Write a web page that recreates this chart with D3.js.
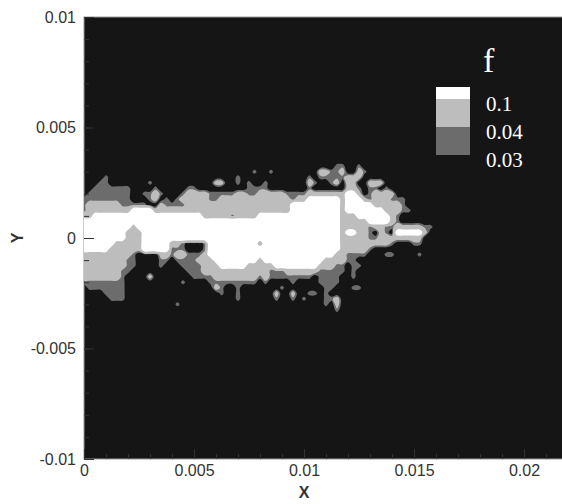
<!DOCTYPE html>
<html>
<head>
<meta charset="utf-8">
<script src="https://cdn.jsdelivr.net/npm/d3@7"></script>
<style>
  body { margin: 0; background: #fff; }
  svg { display: block; }
</style>
</head>
<body>
<div id="chart"></div>
<script>
// axis extents and ticks
const xDomain = [0, 0.022];
const yDomain = [-0.01, 0.01];
const xMajorTicks = [0, 0.005, 0.01, 0.015, 0.02];
const yMajorTicks = [-0.01, -0.005, 0, 0.005, 0.01];
const xMinorTicks = d3.range(0, 0.0221, 0.001);
const yMinorTicks = d3.range(-0.01, 0.01001, 0.001);

// contour levels of f and legend
const levels = [0.03, 0.04, 0.1];
const legendLabels = ["0.1", "0.04", "0.03"];

// sampled f field read off the picture, 0.00025 spacing
// rows go from y=0.0035 (top) to y=-0.0035, columns from x=0 to x=0.016
// ("|" only splits the rows into readable chunks)
const gridX = [0, 0.016];
const gridY = [0.0035, -0.0035];
// "." below 0.03, "1" 0.03-0.04, "2" 0.04-0.1, "3" above 0.1
const fieldCodes = { ".": 0.02, "1": 0.036, "2": 0.052, "3": 0.16 };
const fieldRows = [
  "................|................|................|.................",
  "................|................|..............11|..1..............",
  "................|...............1|..1........22112|..21.............",
  "....1...........|............1...|.........1.11111|222..............",
  "...11.......1...|........22..1.1.|.1.......21..12.|22..222..........",
  "..1111111....1..|...11.........11|11.......1......|221.11.1.........",
  ".11111111..1121.|..12222111112211|2222211112222222|332.12222........",
  "111111111...12.1|.122222112222222|2222221223333332|33321222111......",
  "122222211111..21|1112222222222222|2222223333333332|33333222221......",
  "1222222223333222|2222222222222222|2222223333333332|333333322211.....",
  "2233333333333333|3333332222212222|3333333333333332|2233333321.......",
  "3333333333333333|3333333333333333|3333333333333332|2222333321.......",
  "3333333332333333|3333333333333333|3333333333333332|2222122112222211.",
  "3333333322233333|3333333333333333|3333333333333332|33221.21.333332..",
  "3333333322233333|3333333333333333|3333333333333332|22221122222222...",
  "3333332222233333|221...1333333333|2333333333333332|222222221...11...",
  "3333322222233333|111...1333333333|3333333333333332|22221............",
  "2222222221....22|1221112333333333|3333333333333322|1111...11....1...",
  "2222222211....11|.111122233333333|2333333333332222|11...............",
  "2222222211....1.|..11112223333322|2223333333322211|.11..............",
  "222222211.......|...1112222222222|2211122222211111|.1...............",
  "22222221....2...|....111122222222|1211111111.1111.|.1...............",
  "11111111........|..1....111111111|.1....1....1111.|.................",
  ".1111111........|........21..1...|....1.......11..|.11..............",
  "....1111........|.........1..1...|...2..2..11.1...|.................",
  ".....111........|............1...|...1..1.1...112.|.................",
  "................|.1..............|............1.2.|.................",
  "................|................|..............1.|.................",
  "................|................|................|................."
];

const fillColors = ["#6c6c6c", "#bdbdbd", "#ffffff"];
const backgroundColor = "#151515";

const svgWidth = 562,
  svgHeight = 504;
const plot = { left: 84, top: 17, width: 484, height: 442 };

const svg = d3
  .select("#chart")
  .append("svg")
  .attr("width", svgWidth)
  .attr("height", svgHeight);

const x = d3
  .scaleLinear()
  .domain(xDomain)
  .range([plot.left, plot.left + plot.width]);
const y = d3
  .scaleLinear()
  .domain(yDomain)
  .range([plot.top + plot.height, plot.top]);

svg
  .append("clipPath")
  .attr("id", "plot-clip")
  .append("rect")
  .attr("x", plot.left)
  .attr("y", plot.top)
  .attr("width", plot.width)
  .attr("height", plot.height);

// black background of the plot
svg
  .append("rect")
  .attr("x", plot.left)
  .attr("y", plot.top)
  .attr("width", plot.width)
  .attr("height", plot.height)
  .attr("fill", backgroundColor)
  .attr("stroke", "#9a9a9a")
  .attr("stroke-width", 1);

// build the value grid from the code rows
const rows = fieldRows.map((r) => r.replace(/\|/g, ""));
const nCols = d3.max(rows, (r) => r.length);
const nRows = rows.length;
const values = [];
rows.forEach((row) => {
  const padded = row.padEnd(nCols, ".");
  for (let i = 0; i < nCols; i++) values.push(fieldCodes[padded[i]] ?? 0.02);
});

// grid index -> data coordinates (values sit at cell centres)
const gx = d3.scaleLinear().domain([0.5, nCols - 0.5]).range(gridX);
const gy = d3.scaleLinear().domain([0.5, nRows - 0.5]).range(gridY);

const contours = d3.contours().size([nCols, nRows]).thresholds(levels)(values);

const ringLine = d3
  .line()
  .x((p) => x(gx(p[0])))
  .y((p) => y(gy(p[1])))
  .curve(d3.curveCatmullRomClosed.alpha(0.5));

svg
  .append("g")
  .attr("clip-path", "url(#plot-clip)")
  .selectAll("path")
  .data(contours)
  .enter()
  .append("path")
  .attr("fill", (d, i) => fillColors[i])
  .attr("fill-rule", "evenodd")
  .attr("d", (d) =>
    d.coordinates
      .flatMap((poly) => poly.map((ring) => ringLine(ring.slice(0, -1))))
      .join("")
  );

// axes, ticks point into the plot
const fmt = (d) => String(+d.toFixed(4));

const styleAxis = (g) => {
  g.select(".domain").remove();
  g.selectAll(".tick line").attr("stroke", "#333");
  g.selectAll(".tick text")
    .attr("fill", "#333")
    .style("font-family", "'Liberation Sans', Arial, sans-serif")
    .style("font-size", "16px");
};

svg
  .append("g")
  .attr("transform", "translate(0," + (plot.top + plot.height) + ")")
  .call(d3.axisBottom(x).tickValues(xMinorTicks).tickSize(-5).tickFormat(""))
  .call(styleAxis);
svg
  .append("g")
  .attr("transform", "translate(0," + (plot.top + plot.height) + ")")
  .call(
    d3.axisBottom(x).tickValues(xMajorTicks).tickSize(-10).tickPadding(6).tickFormat(fmt)
  )
  .call(styleAxis);

svg
  .append("g")
  .attr("transform", "translate(" + plot.left + ",0)")
  .call(d3.axisLeft(y).tickValues(yMinorTicks).tickSize(-5).tickFormat(""))
  .call(styleAxis);
svg
  .append("g")
  .attr("transform", "translate(" + plot.left + ",0)")
  .call(
    d3.axisLeft(y).tickValues(yMajorTicks).tickSize(-10).tickPadding(8).tickFormat(fmt)
  )
  .call(styleAxis);

// axis titles
svg
  .append("text")
  .attr("x", x(0.01))
  .attr("y", 498)
  .attr("text-anchor", "middle")
  .attr("fill", "#333")
  .style("font-family", "'Liberation Sans', Arial, sans-serif")
  .style("font-weight", "bold")
  .style("font-size", "16px")
  .text("X");

svg
  .append("text")
  .attr("transform", "translate(23," + y(0) + ") rotate(-90)")
  .attr("text-anchor", "middle")
  .attr("fill", "#333")
  .style("font-family", "'Liberation Sans', Arial, sans-serif")
  .style("font-weight", "bold")
  .style("font-size", "16px")
  .text("Y");

// legend
const legendY = d3.scaleLinear().domain([0, 2]).range([99, 155]);
const legendG = svg.append("g");

legendG
  .append("text")
  .attr("x", 483)
  .attr("y", 72)
  .attr("fill", "#fff")
  .style("font-family", "'Liberation Serif', 'Times New Roman', serif")
  .style("font-size", "34px")
  .text("f");

legendLabels.forEach((label, i) => {
  const top = i === 0 ? legendY(0) - 12 : legendY(i - 1);
  legendG
    .append("rect")
    .attr("x", 436)
    .attr("y", top)
    .attr("width", 34)
    .attr("height", legendY(i) - top)
    .attr("fill", fillColors[fillColors.length - 1 - i]);
  legendG
    .append("text")
    .attr("x", 486)
    .attr("y", legendY(i) + 12)
    .attr("fill", "#fff")
    .style("font-family", "'Liberation Serif', 'Times New Roman', serif")
    .style("font-size", "21px")
    .text(label);
});
</script>
</body>
</html>
